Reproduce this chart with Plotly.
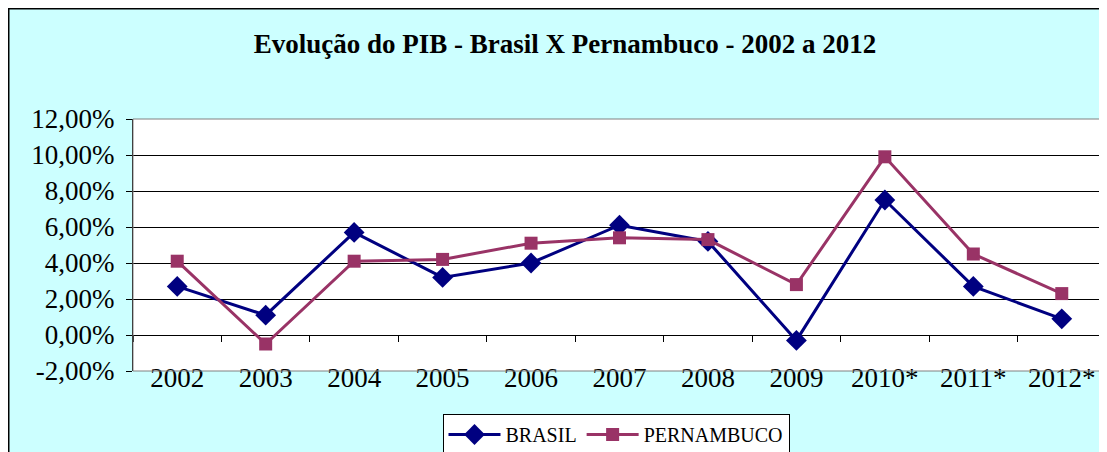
import plotly.graph_objects as go

categories = ["2002", "2003", "2004", "2005", "2006", "2007", "2008", "2009", "2010*", "2011*", "2012*"]
brasil = [2.7, 1.1, 5.7, 3.2, 4.0, 6.1, 5.2, -0.3, 7.5, 2.7, 0.9]
pernambuco = [4.1, -0.5, 4.1, 4.2, 5.1, 5.4, 5.3, 2.8, 9.9, 4.5, 2.3]
y_ticks = [-2, 0, 2, 4, 6, 8, 10, 12]
y_ticktext = ["-2,00%", "0,00%", "2,00%", "4,00%", "6,00%", "8,00%", "10,00%", "12,00%"]

FONT = "Liberation Serif, Times New Roman, Times, serif"

W, H = 1099, 444
L, T, PW, PH = 125, 111, 973, 252

fig = go.Figure()
fig.add_trace(go.Scatter(
    x=categories, y=brasil, name="BRASIL", mode="lines+markers",
    line=dict(color="#000080", width=3),
    marker=dict(symbol="diamond", size=16, color="#000080"),
))
fig.add_trace(go.Scatter(
    x=categories, y=pernambuco, name="PERNAMBUCO", mode="lines+markers",
    line=dict(color="#993366", width=3),
    marker=dict(symbol="square", size=13, color="#993366"),
))
# invisible helper trace to carry the category axis that crosses at 0
fig.add_trace(go.Scatter(
    x=categories, y=[0] * len(categories), xaxis="x2", mode="lines",
    line=dict(width=0), showlegend=False, hoverinfo="skip", opacity=0,
))

fig.update_layout(
    width=W, height=H,
    paper_bgcolor="#CCFFFF", plot_bgcolor="white",
    margin=dict(l=L, r=W - L - PW, t=T, b=H - T - PH, autoexpand=False),
    font=dict(family=FONT, color="black"),
    title=dict(
        text="<b>Evolução do PIB - Brasil X Pernambuco - 2002 a 2012</b>",
        x=557 / W, xref="container", xanchor="center",
        y=1 - 36 / H, yref="container", yanchor="middle",
        font=dict(family=FONT, size=27, color="black"),
    ),
    xaxis=dict(
        type="category", categoryorder="array", categoryarray=categories,
        range=[-0.5, 10.5], showgrid=False, ticks="", showline=False,
        tickfont=dict(family=FONT, size=27, color="black"),
        zeroline=False, automargin=False,
        anchor="free", position=12 / PH,
    ),
    xaxis2=dict(
        type="category", categoryorder="array", categoryarray=categories,
        range=[-0.5, 10.5], overlaying="x", anchor="free",
        position=2 / 14, showgrid=False, showticklabels=False,
        ticks="outside", tickson="boundaries", ticklen=6, tickcolor="black",
        showline=False, zeroline=False, automargin=False,
    ),
    yaxis=dict(
        range=[-2, 12], tickvals=y_ticks, ticktext=y_ticktext,
        showgrid=True, gridcolor="black", gridwidth=1,
        zeroline=True, zerolinecolor="black", zerolinewidth=1,
        showline=True, linecolor="black", linewidth=1,
        ticks="outside", ticklen=6, tickcolor="black",
        tickfont=dict(family=FONT, size=27, color="black"),
        ticklabelstandoff=6,
        automargin=False,
    ),
    legend=dict(
        orientation="h", x=608 / W, xref="container", xanchor="center",
        y=1 - 406 / H, yref="container", yanchor="top",
        bgcolor="white", bordercolor="black", borderwidth=1,
        font=dict(family=FONT, size=20, color="black"),
        itemwidth=52,
    ),
    showlegend=True,
    shapes=[
        dict(type="rect", xref="paper", yref="paper", x0=0, x1=1, y0=0, y1=1,
             line=dict(color="#808080", width=1), fillcolor="rgba(0,0,0,0)", layer="above"),
        dict(type="rect", xref="paper", yref="paper",
             x0=(0.75 - L) / PW, x1=1.05, y0=-0.5, y1=1 + (T - 0.75) / PH,
             line=dict(color="black", width=1.5), fillcolor="rgba(0,0,0,0)", layer="below"),
    ],
)

fig.write_html("out.html")
